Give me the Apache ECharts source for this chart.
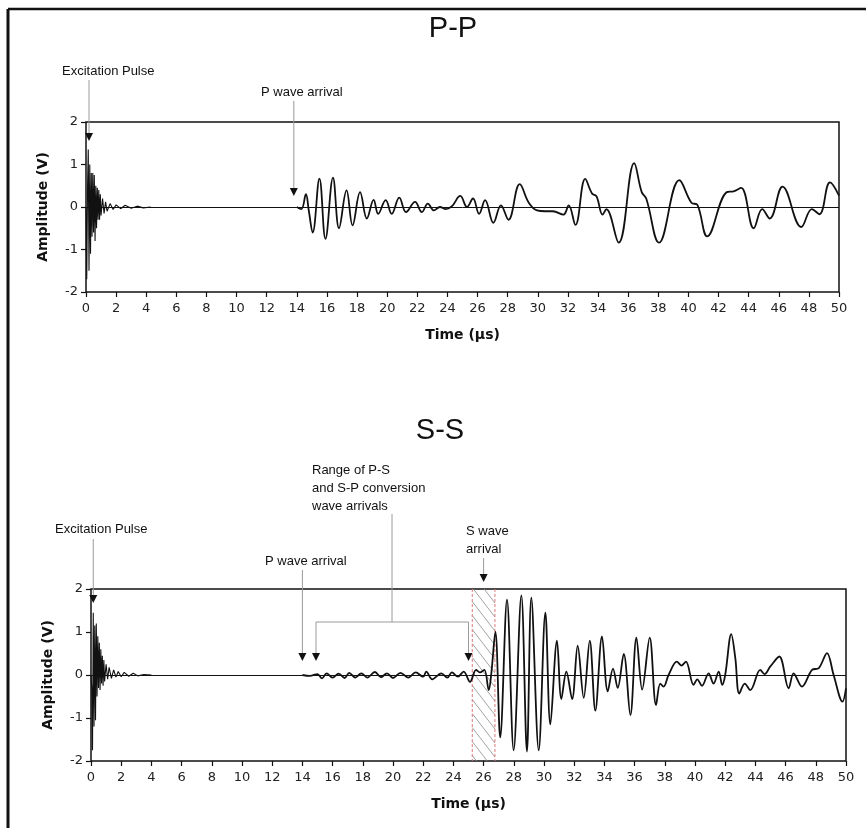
<!DOCTYPE html>
<html>
<head>
<meta charset="utf-8">
<script src="https://cdn.jsdelivr.net/npm/echarts@6/dist/echarts.min.js"></script>
<style>
html,body{margin:0;padding:0;background:#fff}
#chart{width:866px;height:828px}
</style>
</head>
<body>
<div id="chart"></div>
<script>
// P-P record: excitation burst, then the received wave (time in µs, amplitude in V)
const ppPulse = [[0,0],[0.05,-1.7],[0.1,0.4],[0.15,1.35],[0.2,-1.5],[0.25,1.0],[0.3,-1.1],[0.35,0.8],[0.4,-0.7],[0.45,0.8],[0.5,-0.6],[0.55,0.75],[0.6,-0.8],[0.65,0.5],[0.7,-0.5],[0.75,0.45],[0.8,-0.3],[0.85,0.4],[0.9,-0.3],[0.95,0.3],[1.0,-0.2],[1.1,0.2],[1.2,-0.15],[1.3,0.12],[1.4,-0.1],[1.6,0.08],[1.8,-0.06],[2.0,0.05],[2.3,-0.04],[2.6,0.04],[3.0,-0.03],[3.4,0.02],[3.8,-0.02],[4.3,0]]
const ppWave = [[14.0,0],[14.3,-0.05],[14.6,0.3],[14.8,-0.1],[15.05,-0.6],[15.5,0.67],[15.9,-0.75],[16.4,0.69],[16.8,-0.5],[17.3,0.39],[17.7,-0.43],[18.2,0.35],[18.65,-0.27],[19.1,0.17],[19.4,-0.16],[19.9,0.16],[20.3,-0.16],[20.8,0.22],[21.25,-0.12],[21.85,0.12],[22.3,-0.12],[22.7,0.08],[23.1,-0.08],[23.5,0],[23.9,-0.05],[24.3,0.02],[24.85,0.26],[25.3,0],[25.7,0.2],[26.1,-0.16],[26.5,0.16],[27.05,-0.37],[27.55,0.04],[28.05,-0.3],[28.8,0.54],[29.4,0.1],[29.95,-0.08],[30.5,-0.1],[31.0,-0.1],[31.7,-0.18],[32.05,0.04],[32.5,-0.42],[33.15,0.66],[33.6,0.32],[33.9,0.25],[34.3,-0.18],[34.55,-0.05],[35.37,-0.84],[36.4,1.03],[36.9,0.35],[37.2,0.2],[38.05,-0.84],[39.4,0.63],[40.2,0.1],[40.6,0.05],[41.25,-0.69],[42.55,0.35],[43.0,0.37],[43.5,0.45],[44.34,-0.5],[44.9,-0.05],[45.4,-0.27],[46.25,0.48],[47.5,-0.47],[48.2,-0.05],[48.7,-0.17],[49.4,0.58],[50.0,0.27]]

// S-S record
const ssPulse = [[0,0],[0.05,-0.3],[0.1,-1.75],[0.15,1.45],[0.2,-1.2],[0.25,1.15],[0.3,-1.05],[0.35,1.2],[0.4,-0.5],[0.45,0.9],[0.5,-0.3],[0.55,0.75],[0.6,-0.35],[0.65,0.6],[0.7,-0.2],[0.75,0.45],[0.8,-0.25],[0.85,0.35],[0.9,-0.15],[1.0,0.25],[1.1,-0.1],[1.2,0.18],[1.35,-0.08],[1.5,0.12],[1.65,-0.05],[1.8,0.08],[2.0,-0.04],[2.2,0.06],[2.5,-0.03],[2.8,0.04],[3.1,-0.02],[3.5,0.01],[4.0,0]]
const ssWave = [[14.0,0],[14.5,-0.02],[15.0,0.02],[15.3,-0.08],[15.6,0.04],[16.0,-0.06],[16.4,0.03],[16.8,-0.07],[17.1,0.05],[17.5,-0.06],[17.9,0.04],[18.3,-0.06],[18.8,0.07],[19.2,-0.05],[19.6,0.04],[20.0,-0.07],[20.5,0.05],[21.0,-0.06],[21.5,0.06],[22.0,-0.04],[22.2,0.08],[22.6,-0.1],[23.2,0.04],[23.6,-0.06],[23.9,0.06],[24.3,-0.04],[24.68,0.08],[25.1,-0.16],[25.5,0.12],[25.75,0.06],[26.05,0.12],[26.34,-0.35],[26.5,0],[26.78,1.0],[27.1,-1.45],[27.55,1.75],[27.99,-1.75],[28.5,1.85],[28.87,-1.78],[29.16,1.8],[29.65,-1.75],[30.09,1.45],[30.42,-1.15],[30.86,0.8],[31.15,-0.56],[31.48,0.08],[31.86,-0.56],[32.23,0.68],[32.63,-0.53],[33.03,0.8],[33.4,-0.83],[33.84,0.9],[34.22,-0.38],[34.57,0.15],[34.88,-0.3],[35.28,0.49],[35.72,-0.93],[36.12,0.87],[36.5,-0.34],[37.0,0.87],[37.42,-0.7],[37.7,-0.2],[37.92,-0.27],[38.25,0],[38.8,0.31],[39.1,0.22],[39.4,0.31],[39.9,-0.23],[40.15,-0.1],[40.46,-0.25],[40.9,0.04],[41.23,-0.2],[41.57,0.08],[41.8,-0.23],[42.0,0],[42.4,0.95],[42.67,0.39],[42.93,-0.43],[43.3,-0.2],[43.66,-0.35],[44.32,0.12],[44.6,0.02],[44.99,0.2],[45.58,0.43],[46.2,-0.31],[46.53,0.04],[47.08,-0.27],[47.75,0.12],[48.2,0.16],[48.74,0.51],[49.18,0],[49.77,-0.62],[50.0,-0.31]]
const ssConversionWindow = [25.25, 26.75]

// arrow positions on the time axis
const ppArrowTimes = [0.2, 13.8]              // excitation, P arrival
const ssArrowTimes = [0.15, 14.0, 14.9, 25.0, 26.0] // excitation, P arrival, P-S range start/end, S arrival

const tickFont = "DejaVu Sans"
const noteFont = "Liberation Sans"

function xAxisCfg(i) {
  return {
    type: "value", gridIndex: i, min: 0, max: 50, interval: 2,
    name: "Time (µs)", nameLocation: "middle", nameGap: 36,
    nameTextStyle: { fontFamily: tickFont, fontWeight: "bold", fontSize: 14, color: "#111" },
    axisLine: { show: false, onZero: false },
    axisTick: { show: true, length: 5, lineStyle: { color: "#111", width: 1.2 } },
    axisLabel: { fontFamily: tickFont, fontSize: 13, color: "#222", margin: 10 },
    splitLine: { show: false }
  }
}
function yAxisCfg(i) {
  return {
    type: "value", gridIndex: i, min: -2, max: 2, interval: 1,
    name: "Amplitude (V)", nameLocation: "middle", nameGap: 36,
    nameTextStyle: { fontFamily: tickFont, fontWeight: "bold", fontSize: 14, color: "#111" },
    axisLine: { show: false, onZero: false },
    axisTick: { show: true, length: 5, lineStyle: { color: "#111", width: 1.2 } },
    axisLabel: { fontFamily: tickFont, fontSize: 13, color: "#222", margin: 8 },
    splitLine: { show: false }
  }
}
const zeroLine = {
  silent: true, symbol: "none", label: { show: false },
  lineStyle: { color: "#111", width: 1, type: "solid" }, data: [{ yAxis: 0 }]
}
function trace(i, data, smooth, width, extra) {
  return Object.assign({
    type: "line", xAxisIndex: i, yAxisIndex: i, data: data, smooth: smooth,
    symbol: "none", silent: true, lineStyle: { color: "#111", width: width }
  }, extra || {})
}

const chart = echarts.init(document.getElementById("chart"))
chart.setOption({
  animation: false,
  backgroundColor: "#fff",
  grid: [
    { left: 86, right: 27, top: 122, height: 170, show: true, borderColor: "#111", borderWidth: 1.5 },
    { left: 91, right: 20, top: 589, height: 172, show: true, borderColor: "#111", borderWidth: 1.5 }
  ],
  xAxis: [xAxisCfg(0), xAxisCfg(1)],
  yAxis: [yAxisCfg(0), yAxisCfg(1)],
  series: [
    trace(0, ppPulse, false, 1.1),
    trace(0, ppWave, 0.4, 1.8, { markLine: zeroLine }),
    {
      type: "custom", xAxisIndex: 1, yAxisIndex: 1, silent: true, z: 1,
      data: [ssConversionWindow], encode: { x: [0, 1] },
      renderItem: function (params, api) {
        const x0 = api.coord([api.value(0), 2])[0], x1 = api.coord([api.value(1), 2])[0]
        const yT = api.coord([0, 2])[1], yB = api.coord([0, -2])[1]
        const s = 1.3, step = 14, kids = []
        for (let y0 = yT - (x1 - x0) * s; y0 < yB; y0 += step) {
          const xa = Math.max(x0, x0 + (yT - y0) / s), xb = Math.min(x1, x0 + (yB - y0) / s)
          if (xb <= xa) continue
          kids.push({ type: "line", shape: { x1: xa, y1: y0 + (xa - x0) * s, x2: xb, y2: y0 + (xb - x0) * s }, style: { stroke: "#8a8a8a", lineWidth: 0.8 } })
        }
        ;[x0, x1].forEach(function (x) {
          kids.push({ type: "line", shape: { x1: x, y1: yT, x2: x, y2: yB }, style: { stroke: "#e07a7a", lineWidth: 1, lineDash: [3, 2] } })
        })
        return { type: "group", children: kids }
      }
    },
    trace(1, ssPulse, false, 1.1),
    trace(1, ssWave, 0.35, 1.8, { markLine: zeroLine })
  ]
})

// annotations
const ax = (g, t) => chart.convertToPixel({ gridIndex: g }, [t, 0])[0]
const ink = "#111", lead = "#9a9a9a"
function note(text, x, y, size, align) {
  return { type: "text", z: 10, style: { text: text, x: x, y: y, font: (size || 13) + "px \"" + noteFont + "\"", fill: ink, textAlign: align || "left", textVerticalAlign: "middle", align: align || "left", verticalAlign: "middle" } }
}
function seg(x1, y1, x2, y2, color, w) {
  return { type: "line", z: 10, shape: { x1: x1, y1: y1, x2: x2, y2: y2 }, style: { stroke: color || lead, lineWidth: w || 1 } }
}
function arrow(x, yFrom, yTip) {
  return [
    seg(x, yFrom, x, yTip - 6),
    { type: "polygon", z: 11, shape: { points: [[x, yTip], [x - 4, yTip - 8], [x + 4, yTip - 8]] }, style: { fill: ink } }
  ]
}

const g = []
// figure frame
g.push(seg(8, 9, 866, 9, "#111", 2.5), seg(8, 9, 8, 828, "#111", 3))
// P-P panel
g.push(note("P-P", 453, 29, 29, "center"))
g.push(note("Excitation Pulse", 62, 71))
g.push(note("P wave arrival", 261, 92))
g.push(...arrow(ax(0, ppArrowTimes[0]), 80, 141))
g.push(...arrow(ax(0, ppArrowTimes[1]), 101, 196))
// S-S panel
g.push(note("S-S", 440, 431, 29, "center"))
g.push(note("Range of P-S", 312, 470), note("and S-P conversion", 312, 488), note("wave arrivals", 312, 506))
g.push(note("Excitation Pulse", 55, 529))
g.push(note("P wave arrival", 265, 561))
g.push(note("S wave", 466, 531), note("arrival", 466, 549))
g.push(...arrow(ax(1, ssArrowTimes[0]), 539, 603))
g.push(...arrow(ax(1, ssArrowTimes[1]), 570, 661))
const rA = ax(1, ssArrowTimes[2]), rB = ax(1, ssArrowTimes[3])
g.push(seg(392, 514, 392, 622), seg(rA, 622, rB, 622))
g.push(...arrow(rA, 622, 661), ...arrow(rB, 622, 661))
g.push(...arrow(ax(1, ssArrowTimes[4]), 558, 582))

chart.setOption({ graphic: { elements: g } })
</script>
</body>
</html>
